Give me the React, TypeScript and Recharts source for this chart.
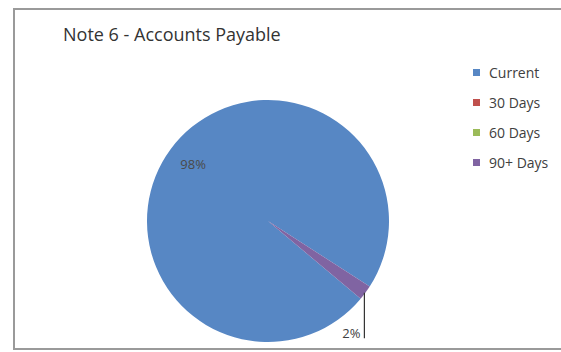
import { Cell, Legend, Pie, PieChart } from "recharts";

const categories = ["Current", "30 Days", "60 Days", "90+ Days"];
const shares = [98, 0, 0, 2];
const title = "Note 6 - Accounts Payable";

const COLORS = ["#5787c4", "#c0504d", "#9bbb59", "#8064a2"];
const FONT = "'Open Sans', 'Noto Sans', sans-serif";
const RAD = Math.PI / 180;

const data = categories.map((name, i) => ({ name, value: shares[i] }));
const total = shares.reduce((a, b) => a + b, 0);

function SliceLabel(props: any) {
  const { cx, cy, midAngle, outerRadius, value, index } = props;
  if (!value) return null;
  const pct = `${Math.round((value / total) * 100)}%`;
  const cos = Math.cos(-midAngle * RAD);
  const sin = Math.sin(-midAngle * RAD);
  if (index === 0) {
    const r = outerRadius * 0.8;
    return (
      <text
        x={cx + r * cos + 3}
        y={cy + r * sin}
        textAnchor="middle"
        dominantBaseline="central"
        fill="#4a4a4a"
        fontSize={13}
        fontFamily={FONT}
      >
        {pct}
      </text>
    );
  }
  // small slice: leader line dropping straight down from the rim
  const ex = cx + outerRadius * cos - 1;
  const ey = cy + outerRadius * sin;
  const ly = cy + outerRadius * 0.97;
  return (
    <g>
      <line x1={ex} y1={ey} x2={ex} y2={ly} stroke="#333" strokeWidth={1.2} />
      <text x={ex - 4} y={ly} textAnchor="end" fill="#404040" fontSize={13} fontFamily={FONT}>
        {pct}
      </text>
    </g>
  );
}

function LegendList() {
  return (
    <div style={{ fontFamily: FONT, fontSize: 14, color: "#404040" }}>
      {categories.map((c, i) => (
        <div key={c} style={{ display: "flex", alignItems: "center", height: 30 }}>
          <span style={{ width: 7, height: 7, background: COLORS[i], marginRight: 9 }} />
          <span>{c}</span>
        </div>
      ))}
    </div>
  );
}

export default function App() {
  return (
    <div style={{ position: "absolute", left: 0, top: 0, width: 561, height: 352, background: "#fff", overflow: "hidden" }}>
      <svg width={561} height={352} style={{ position: "absolute", left: 0, top: 0 }}>
        <path d="M561,9 H14 V349 H561" fill="none" stroke="#9a9a9a" strokeWidth={2} />
      </svg>
      <div
        style={{
          position: "absolute",
          left: 63,
          top: 22,
          fontFamily: FONT,
          fontSize: 18,
          fontWeight: 400,
          color: "#333",
          whiteSpace: "nowrap",
          lineHeight: "normal",
        }}
      >
        {title}
      </div>
      <div style={{ position: "absolute", left: 0, top: 0 }}>
        <PieChart width={561} height={352} margin={{ top: 0, right: 0, bottom: 0, left: 0 }}>
          <Pie
            data={data}
            dataKey="value"
            nameKey="name"
            cx={268}
            cy={221}
            outerRadius={121}
            startAngle={320}
            endAngle={-40}
            stroke="none"
            labelLine={false}
            label={SliceLabel}
            isAnimationActive={false}
          >
            {data.map((d, i) => (
              <Cell key={d.name} fill={COLORS[i]} />
            ))}
          </Pie>
          <Legend
            content={<LegendList />}
            wrapperStyle={{ position: "absolute", left: 473, top: 57, width: 85 }}
          />
        </PieChart>
      </div>
    </div>
  );
}
